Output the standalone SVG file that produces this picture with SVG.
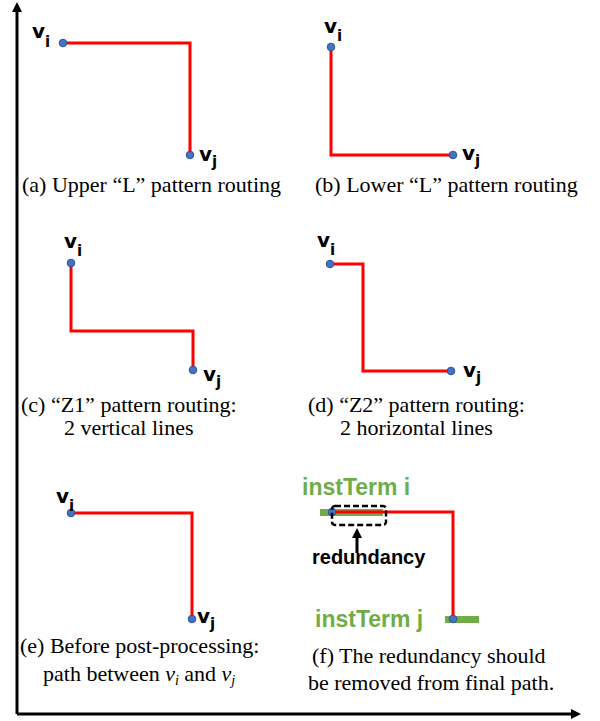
<svg xmlns="http://www.w3.org/2000/svg" width="600" height="721" viewBox="0 0 600 721">
<style>
.bg{fill:#ffffff}
.route{fill:none;stroke:#FF0000;stroke-width:3;stroke-linejoin:miter}
.dot{fill:#4472C4;stroke:#2F528F;stroke-width:1}
.lbl{font-family:"DejaVu Sans","Liberation Sans",Arial,sans-serif;font-weight:bold;font-size:20px;fill:#000}
.sub{font-size:15px}
.red{font-family:"Liberation Sans",Arial,sans-serif;font-weight:bold;font-size:20px;fill:#000}
.cap{font-family:"Liberation Serif","Times New Roman",serif;font-size:22px;fill:#000}
.it{font-style:italic}
.green{font-family:"Liberation Sans",Arial,sans-serif;font-weight:bold;font-size:23px;fill:#70AD47}
.bar{fill:#70AD47}
.axis{fill:none;stroke:#000;stroke-width:3}
.dash{fill:none;stroke:#000;stroke-width:2.5;stroke-dasharray:6 3}
</style>
<defs>
<marker id="ah" markerUnits="userSpaceOnUse" viewBox="0 0 10 10" refX="0" refY="5" markerWidth="10" markerHeight="10" orient="auto" overflow="visible">
<path d="M0,0 L10,5 L0,10 z" fill="#000"/>
</marker>
</defs>
<rect class="bg" x="0" y="0" width="600" height="721"/>

<g id="panel-a">
<path class="route" d="M63,43 H190 V155"/>
<circle class="dot" cx="63" cy="43" r="3.8"/>
<circle class="dot" cx="190" cy="155" r="3.8"/>
<text class="lbl" x="32" y="38">v<tspan class="sub" dy="9">i</tspan></text>
<text class="lbl" x="199" y="161">v<tspan class="sub" dy="6">j</tspan></text>
<text class="cap" x="22" y="192">(a) Upper “L” pattern routing</text>
</g>

<g id="panel-b">
<path class="route" d="M331,47 V155 H453"/>
<circle class="dot" cx="331" cy="47" r="3.8"/>
<circle class="dot" cx="453" cy="155" r="3.8"/>
<text class="lbl" x="324" y="33">v<tspan class="sub" dy="8">i</tspan></text>
<text class="lbl" x="462" y="160">v<tspan class="sub" dy="6">j</tspan></text>
<text class="cap" x="315" y="192">(b) Lower “L” pattern routing</text>
</g>

<g id="panel-c">
<path class="route" d="M71,263 V331 H193 V370"/>
<circle class="dot" cx="71" cy="263" r="3.8"/>
<circle class="dot" cx="193" cy="370" r="3.8"/>
<text class="lbl" x="64" y="248">v<tspan class="sub" dy="8">i</tspan></text>
<text class="lbl" x="203" y="381">v<tspan class="sub" dy="6">j</tspan></text>
<text class="cap" x="21" y="412">(c)  “Z1” pattern routing:</text>
<text class="cap" x="64" y="435">2 vertical lines</text>
</g>

<g id="panel-d">
<path class="route" d="M330,264 H363 V371 H451"/>
<circle class="dot" cx="330" cy="264" r="3.8"/>
<circle class="dot" cx="451" cy="371" r="3.8"/>
<text class="lbl" x="317" y="247">v<tspan class="sub" dy="8">i</tspan></text>
<text class="lbl" x="463" y="377">v<tspan class="sub" dy="6">j</tspan></text>
<text class="cap" x="308" y="412">(d)  “Z2” pattern routing:</text>
<text class="cap" x="340" y="435">2 horizontal lines</text>
</g>

<g id="panel-e">
<path class="route" d="M71,513 H192 V619"/>
<circle class="dot" cx="71" cy="513" r="3.8"/>
<circle class="dot" cx="192" cy="619" r="3.8"/>
<text class="lbl" x="56" y="503">v<tspan class="sub" dy="8">i</tspan></text>
<text class="lbl" x="197" y="623">v<tspan class="sub" dy="6">j</tspan></text>
<text class="cap" x="20" y="653">(e)  Before post-processing:</text>
<text class="cap" x="43" y="681">path between <tspan class="it">v</tspan><tspan class="it" font-size="14" dy="4">i</tspan><tspan dy="-4"> and </tspan><tspan class="it">v</tspan><tspan class="it" font-size="14" dy="4">j</tspan></text>
</g>

<g id="panel-f">
<text class="green" x="302" y="495">instTerm i</text>
<rect class="bar" x="320" y="509" width="63" height="7"/>
<rect class="bar" x="445" y="616" width="34" height="7"/>
<path class="route" d="M332,512 H453 V619"/>
<circle class="dot" cx="332" cy="512" r="3.8"/>
<circle class="dot" cx="453" cy="619" r="3.8"/>
<rect id="redundancy-box" class="dash" x="332" y="506" width="54" height="19" rx="3"/>
<text class="red" x="312" y="564">redundancy</text>
<text class="green" x="315" y="627">instTerm j</text>
<text class="cap" x="312" y="663">(f) The redundancy should</text>
<text class="cap" x="308" y="690">be removed from final path.</text>
</g>

<g id="connectors">
<path class="axis" d="M17,714 V12" marker-end="url(#ah)"/>
<path class="axis" d="M17,714 H571" marker-end="url(#ah)"/>
<path class="axis" d="M357,553 V538" marker-end="url(#ah)"/>
</g>
</svg>
